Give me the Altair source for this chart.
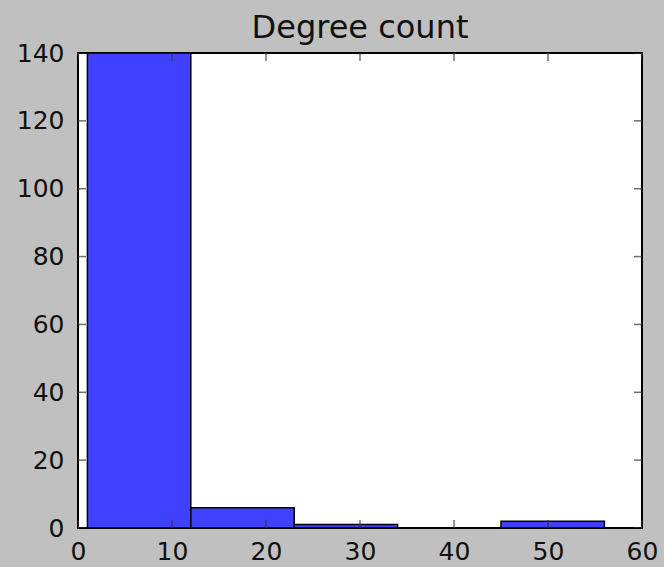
import altair as alt
import pandas as pd

# Histogram bins (degree) and counts
bin_start = [1, 12, 23, 34, 45]
bin_end = [12, 23, 34, 45, 56]
counts = [140, 6, 1, 0, 2]

x_ticks = [0, 10, 20, 30, 40, 50, 60]
y_ticks = [0, 20, 40, 60, 80, 100, 120, 140]

bars = pd.DataFrame({"start": bin_start, "end": bin_end, "count": counts})
xt = pd.DataFrame({"t": x_ticks})
yt = pd.DataFrame({"t": y_ticks})

FONT = "DejaVu Sans"
xscale = alt.Scale(domain=[0, 60], nice=False, zero=False)
yscale = alt.Scale(domain=[0, 140], nice=False, clamp=True)

xaxis = alt.Axis(values=x_ticks, format="d", ticks=False, domain=False, grid=False,
                 labelFont=FONT, labelFontSize=25, labelColor="#111111",
                 labelPadding=11, labelFlush=False, labelOverlap=False, labelBound=False, title=None)
yaxis = alt.Axis(values=y_ticks, format="d", ticks=False, domain=False, grid=False,
                 labelFont=FONT, labelFontSize=25, labelColor="#111111",
                 labelPadding=14, labelFlush=False, labelOverlap=False, labelBound=False, title=None)

bar_layer = alt.Chart(bars).mark_rect(
    color="#4040ff", stroke="#000000", strokeWidth=1.5, clip=True
).encode(
    x=alt.X("start:Q", scale=xscale, axis=xaxis),
    x2="end:Q",
    y=alt.Y("count:Q", scale=yscale, axis=yaxis),
    y2=alt.datum(0),
)

tick_style = dict(color="#333333", thickness=1.5, size=16, clip=True)

xt_bottom = alt.Chart(xt).mark_tick(orient="vertical", **tick_style).encode(
    x=alt.X("t:Q", scale=xscale), y=alt.datum(0))
xt_top = alt.Chart(xt).mark_tick(orient="vertical", **tick_style).encode(
    x=alt.X("t:Q", scale=xscale), y=alt.datum(140))
yt_left = alt.Chart(yt).mark_tick(orient="horizontal", **tick_style).encode(
    y=alt.Y("t:Q", scale=yscale), x=alt.datum(0))
yt_right = alt.Chart(yt).mark_tick(orient="horizontal", **tick_style).encode(
    y=alt.Y("t:Q", scale=yscale), x=alt.datum(60))

chart = alt.layer(bar_layer, xt_bottom, xt_top, yt_left, yt_right).properties(
    width=564,
    height=475,
    title=alt.TitleParams("Degree count", font=FONT, fontSize=32, fontWeight="normal",
                          color="#111111", anchor="middle", frame="group", offset=10, dy=14),
    autosize=alt.AutoSizeParams(type="none"),
    padding={"left": 78, "top": 53, "right": 22, "bottom": 39},
    background="#c0c0c0",
).configure_view(
    stroke="#000000", strokeWidth=2, fill="#ffffff"
)

chart.save("out.html", embed_options={"renderer": "svg", "actions": False})
